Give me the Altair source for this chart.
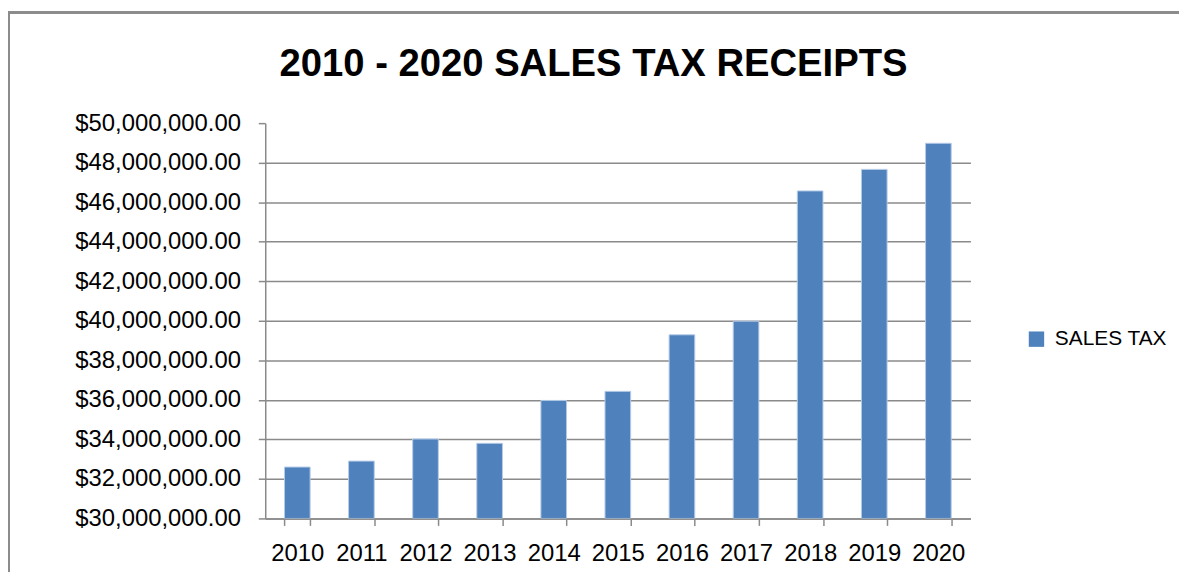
import altair as alt
import pandas as pd

years = ["2010", "2011", "2012", "2013", "2014", "2015", "2016", "2017", "2018", "2019", "2020"]
sales_tax = [32600000, 32900000, 34020000, 33800000, 35970000, 36430000,
             39290000, 39980000, 46570000, 47660000, 48980000]
series_name = "SALES TAX"
y_ticks = [30000000, 32000000, 34000000, 36000000, 38000000, 40000000,
           42000000, 44000000, 46000000, 48000000, 50000000]

df = pd.DataFrame({"year": years, "value": sales_tax, "series": [series_name] * len(years)})

GRAY = "#8a8a8a"
FONT = "Liberation Sans"

bars = alt.Chart(df).mark_bar(stroke="#b4cbe8", strokeWidth=1, clip=True).encode(
    x=alt.X("year:N", sort=years,
            scale=alt.Scale(paddingInner=0.6, paddingOuter=0.3),
            axis=alt.Axis(title=None, labelAngle=0, tickBand="extent", grid=False,
                          ticks=True, tickSize=7, tickColor=GRAY, tickWidth=1.5,
                          domainColor=GRAY, domainWidth=1.5,
                          labelFont=FONT, labelFontSize=24, labelColor="#000000",
                          labelPadding=16)),
    y=alt.Y("value:Q",
            scale=alt.Scale(domain=[30000000, 50000000], nice=False, zero=False),
            axis=alt.Axis(title=None, values=y_ticks, format="$,.2f",
                          grid=True, gridColor=GRAY, gridWidth=1.5,
                          gridOpacity={"condition": {"test": "datum.value == 50000000", "value": 0}, "value": 1},
                          tickSize=7, tickColor=GRAY, tickWidth=1.5,
                          domainColor=GRAY, domainWidth=1.5,
                          labelFont=FONT, labelFontSize=24, labelColor="#000000",
                          labelPadding=18)),
    y2=alt.datum(30000000),
    color=alt.Color("series:N", scale=alt.Scale(range=["#4f81bd"]),
                    legend=alt.Legend(title=None, orient="none", legendX=766, legendY=207,
                                      symbolType="square", symbolSize=240,
                                      symbolStrokeWidth=0, labelFont=FONT,
                                      labelFontSize=21, labelColor="#000000",
                                      labelOffset=8, padding=0)),
)

frame = alt.Chart(df).mark_rect(fill=None, stroke="#8c8c8c", strokeWidth=2).encode(
    x=alt.value(-258.5), x2=alt.value(1100), y=alt.value(-111.5), y2=alt.value(600)
)

chart = alt.layer(frame, bars).properties(
    width=710,
    height=398,
    title=alt.TitleParams(text="2010 - 2020 SALES TAX RECEIPTS", font=FONT, fontSize=38.5,
                          fontWeight="bold", color="#000000", anchor="middle",
                          baseline="alphabetic", dx=-24.5, offset=0, dy=103.5),
    autosize=alt.AutoSizeParams(type="none"),
    padding={"left": 259, "top": 114, "right": 210, "bottom": 52},
).configure_view(stroke=None)

chart.save("out.html", embed_options={"renderer": "svg", "actions": False})
